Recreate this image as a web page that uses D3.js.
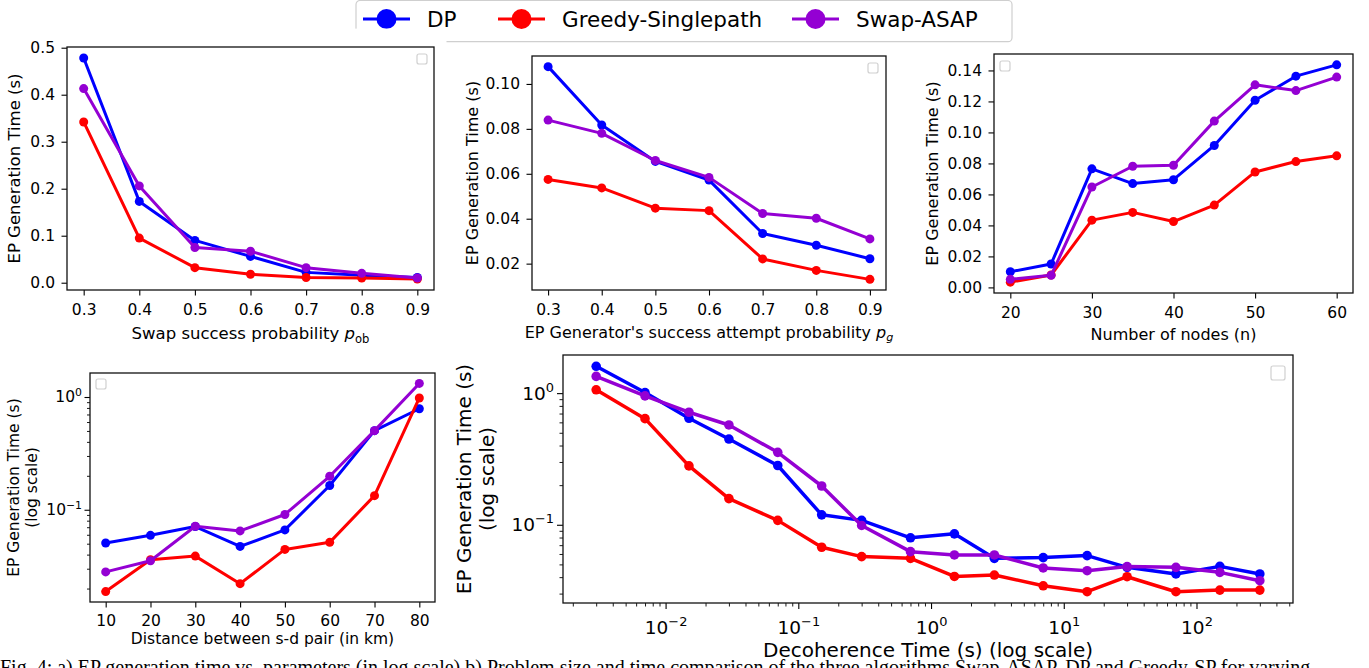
<!DOCTYPE html>
<html>
<head>
<meta charset="utf-8">
<script src="https://cdn.jsdelivr.net/npm/d3@7"></script>
<style>
  body { margin: 0; background: #fff; }
  svg text { font-family: "DejaVu Sans", sans-serif; fill: #000; }
  .caption { font-family: "Liberation Serif", serif; }
</style>
</head>
<body>
<svg id="fig" width="1369" height="668"></svg>
<script>
// ---- series ----
var seriesNames = ["DP", "Greedy-Singlepath", "Swap-ASAP"];
var seriesColors = ["#0000ff", "#ff0000", "#9400d3"];

// (top left) swap success probability
var pobValues = [0.3, 0.4, 0.5, 0.6, 0.7, 0.8, 0.9];
var pobDP = [0.478, 0.173, 0.090, 0.056, 0.022, 0.016, 0.011];
var pobGreedy = [0.342, 0.095, 0.032, 0.018, 0.011, 0.010, 0.008];
var pobSwapAsap = [0.413, 0.206, 0.075, 0.067, 0.032, 0.020, 0.010];

// (top middle) EP generator success probability
var pgValues = [0.3, 0.4, 0.5, 0.6, 0.7, 0.8, 0.9];
var pgDP = [0.1077, 0.0817, 0.0655, 0.0572, 0.0334, 0.0282, 0.0222];
var pgGreedy = [0.0575, 0.0537, 0.0447, 0.0436, 0.0221, 0.0170, 0.0130];
var pgSwapAsap = [0.0839, 0.0780, 0.0659, 0.0584, 0.0423, 0.0402, 0.0310];

// (top right) number of nodes
var nodeCounts = [20, 25, 30, 35, 40, 45, 50, 55, 60];
var nodesDP = [0.0101, 0.0151, 0.0765, 0.0670, 0.0695, 0.0916, 0.1208, 0.1363, 0.1436];
var nodesGreedy = [0.0034, 0.0080, 0.0434, 0.0484, 0.0425, 0.0531, 0.0745, 0.0812, 0.0849];
var nodesSwapAsap = [0.0052, 0.0078, 0.0648, 0.0782, 0.0788, 0.1073, 0.1307, 0.1270, 0.1357];

// (bottom left) s-d distance, log y
var distances = [10, 20, 30, 40, 50, 60, 70, 80];
var distDP = [0.0507, 0.0593, 0.0710, 0.0473, 0.0663, 0.164, 0.503, 0.787];
var distGreedy = [0.0188, 0.0360, 0.0388, 0.0221, 0.0445, 0.0514, 0.1334, 0.98];
var distSwapAsap = [0.0281, 0.0353, 0.0714, 0.0649, 0.0908, 0.198, 0.503, 1.32];

// (bottom right) decoherence time, log-log
var decohTimes = [0.003, 0.007, 0.015, 0.03, 0.07, 0.15, 0.3, 0.7, 1.5, 3, 7, 15, 30, 70, 150, 300];
var decohDP = [1.6, 1.01, 0.644, 0.448, 0.282, 0.119, 0.108, 0.0796, 0.0853, 0.0556, 0.0563, 0.0583, 0.0475, 0.0423, 0.0483, 0.0423];
var decohGreedy = [1.06, 0.64, 0.28, 0.158, 0.108, 0.0675, 0.0573, 0.0556, 0.0405, 0.0415, 0.0344, 0.031, 0.0403, 0.031, 0.0319, 0.0319];
var decohSwapAsap = [1.34, 0.953, 0.716, 0.573, 0.355, 0.197, 0.0988, 0.0625, 0.059, 0.059, 0.047, 0.0448, 0.0481, 0.0475, 0.0435, 0.0376];

// ---- ticks ----
var probTicks = [0.3, 0.4, 0.5, 0.6, 0.7, 0.8, 0.9];
var pobTicksY = [0, 0.1, 0.2, 0.3, 0.4, 0.5];
var pgTicksY = [0.02, 0.04, 0.06, 0.08, 0.10];
var nodeTicksX = [20, 30, 40, 50, 60];
var nodeTicksY = [0, 0.02, 0.04, 0.06, 0.08, 0.10, 0.12, 0.14];
var distTicksX = [10, 20, 30, 40, 50, 60, 70, 80];
var distTicksY = [0.1, 1];
var decohTicksX = [0.01, 0.1, 1, 10, 100];
var decohTicksY = [0.1, 1];

var svg = d3.select("#fig");

// matplotlib style 5% margins
function padDomain(vals, log) {
  var f = log ? Math.log10 : function(v) { return v; };
  var e = d3.extent(vals, f), m = (e[1] - e[0]) * 0.05;
  var lo = e[0] - m, hi = e[1] + m;
  return log ? [Math.pow(10, lo), Math.pow(10, hi)] : [lo, hi];
}

function minorTicks(domain) {
  var out = [];
  for (var k = Math.floor(Math.log10(domain[0])); k <= Math.ceil(Math.log10(domain[1])); k++) {
    for (var m = 2; m <= 9; m++) {
      var v = m * Math.pow(10, k);
      if (v >= domain[0] && v <= domain[1]) out.push(v);
    }
  }
  return out;
}

function powLabel(sel, fs) {
  sel.each(function(d) {
    var t = d3.select(this), e = Math.round(Math.log10(d));
    t.text(null);
    t.append("tspan").text("10");
    t.append("tspan")
      .attr("dy", -0.42 * fs)
      .style("font-size", (fs * 0.7) + "px")
      .text(e < 0 ? "\u2212" + (-e) : String(e));
  });
}

function writeParts(text, parts, fs) {
  parts.forEach(function(p) {
    var s = text.append("tspan").text(p.t);
    if (p.italic) s.style("font-style", "italic");
    if (p.sub) s.attr("dy", 0.22 * fs).style("font-size", (fs * 0.7) + "px");
  });
}

function drawPanel(p) {
  var g = svg.append("g");
  var b = p.box;
  var x = (p.xLog ? d3.scaleLog() : d3.scaleLinear())
    .domain(padDomain(p.xs, p.xLog))
    .range([b.x0, b.x1]);
  var y = (p.yLog ? d3.scaleLog() : d3.scaleLinear())
    .domain(padDomain(d3.merge(p.ys), p.yLog))
    .range([b.y1, b.y0]);

  // series
  var line = d3.line().x(function(d) { return x(d[0]); }).y(function(d) { return y(d[1]); });
  p.ys.forEach(function(vals, i) {
    var pts = p.xs.map(function(xv, j) { return [xv, vals[j]]; });
    var sg = g.append("g");
    sg.append("path")
      .attr("d", line(pts))
      .attr("fill", "none")
      .attr("stroke", seriesColors[i])
      .attr("stroke-width", p.lw)
      .attr("stroke-linejoin", "round");
    sg.selectAll("circle")
      .data(pts)
      .enter()
      .append("circle")
        .attr("cx", function(d) { return x(d[0]); })
        .attr("cy", function(d) { return y(d[1]); })
        .attr("r", p.mr)
        .attr("fill", seriesColors[i]);
  });

  // axes
  var xa = g.append("g")
    .attr("transform", "translate(0," + b.y1 + ")")
    .call(d3.axisBottom(x).tickValues(p.xTicks).tickFormat(p.xLog ? function() { return ""; } : p.xFmt)
      .tickSizeInner(p.tick).tickSizeOuter(0));
  var ya = g.append("g")
    .attr("transform", "translate(" + b.x0 + ",0)")
    .call(d3.axisLeft(y).tickValues(p.yTicks).tickFormat(p.yLog ? function() { return ""; } : p.yFmt)
      .tickSizeInner(p.tick).tickSizeOuter(0));
  [xa, ya].forEach(function(a) {
    a.attr("font-family", null).attr("font-size", null);
    a.select(".domain").remove();
    a.selectAll(".tick line").attr("stroke", "#000").attr("stroke-width", 1.1);
    a.selectAll("text").style("font-size", p.tickFs + "px");
  });
  xa.selectAll("text").attr("y", p.xTickBase).attr("dy", null);
  ya.selectAll("text").attr("x", -p.yTickGap);
  if (p.xLog) xa.selectAll("text").call(powLabel, p.tickFs);
  if (p.yLog) ya.selectAll("text").call(powLabel, p.tickFs);

  if (p.xLog) {
    var mx = g.append("g").attr("transform", "translate(0," + b.y1 + ")")
      .call(d3.axisBottom(x).tickValues(minorTicks(x.domain())).tickFormat("").tickSizeInner(p.minorTick).tickSizeOuter(0));
    mx.select(".domain").remove();
    mx.selectAll("line").attr("stroke", "#000").attr("stroke-width", 0.9);
  }
  if (p.yLog) {
    var my = g.append("g").attr("transform", "translate(" + b.x0 + ",0)")
      .call(d3.axisLeft(y).tickValues(minorTicks(y.domain())).tickFormat("").tickSizeInner(p.minorTick).tickSizeOuter(0));
    my.select(".domain").remove();
    my.selectAll("line").attr("stroke", "#000").attr("stroke-width", 0.9);
  }

  // spines
  g.append("rect")
    .attr("x", b.x0).attr("y", b.y0)
    .attr("width", b.x1 - b.x0).attr("height", b.y1 - b.y0)
    .attr("fill", "none").attr("stroke", "#111").attr("stroke-width", 1.3);

  // empty legend frame
  g.append("rect")
    .attr("x", p.emptyLegend[0]).attr("y", p.emptyLegend[1])
    .attr("width", p.emptyLegend[2]).attr("height", p.emptyLegend[2])
    .attr("rx", 2)
    .attr("fill", "#fff").attr("stroke", "#d0d0d0").attr("stroke-width", 1.2);

  // labels
  var xl = g.append("text")
    .attr("x", (b.x0 + b.x1) / 2).attr("y", p.xLabelY)
    .attr("text-anchor", "middle")
    .style("font-size", p.labelFs + "px");
  writeParts(xl, p.xLabel, p.labelFs);

  p.yLabel.forEach(function(s, i) {
    g.append("text")
      .attr("transform", "translate(" + p.yLabelX[i] + "," + ((b.y0 + b.y1) / 2) + ") rotate(-90)")
      .attr("text-anchor", "middle")
      .style("font-size", p.labelFs + "px")
      .text(s);
  });
}

drawPanel({
  box: { x0: 67, x1: 434, y0: 47, y1: 290 },
  xs: pobValues, ys: [pobDP, pobGreedy, pobSwapAsap],
  xTicks: probTicks, yTicks: pobTicksY,
  xFmt: d3.format(".1f"), yFmt: d3.format(".1f"),
  tick: 5.5, tickFs: 15.5, labelFs: 16.5, xTickBase: 25, yTickGap: 12,
  lw: 3, mr: 4.5,
  xLabel: [{ t: "Swap success probability " }, { t: "p", italic: true }, { t: "ob", sub: true }],
  xLabelY: 339,
  yLabel: ["EP Generation Time (s)"], yLabelX: [19.5],
  emptyLegend: [417, 54, 10]
});

drawPanel({
  box: { x0: 532, x1: 886, y0: 56, y1: 290 },
  xs: pgValues, ys: [pgDP, pgGreedy, pgSwapAsap],
  xTicks: probTicks, yTicks: pgTicksY,
  xFmt: d3.format(".1f"), yFmt: d3.format(".2f"),
  tick: 5.5, tickFs: 15.5, labelFs: 16, xTickBase: 25, yTickGap: 12,
  lw: 3, mr: 4.5,
  xLabel: [{ t: "EP Generator's success attempt probability " }, { t: "p", italic: true }, { t: "g", sub: true, italic: true }],
  xLabelY: 337.5,
  yLabel: ["EP Generation Time (s)"], yLabelX: [478],
  emptyLegend: [868, 63, 10]
});

drawPanel({
  box: { x0: 994, x1: 1353, y0: 54, y1: 293 },
  xs: nodeCounts, ys: [nodesDP, nodesGreedy, nodesSwapAsap],
  xTicks: nodeTicksX, yTicks: nodeTicksY,
  xFmt: d3.format("d"), yFmt: d3.format(".2f"),
  tick: 5.5, tickFs: 15.5, labelFs: 16, xTickBase: 25, yTickGap: 12,
  lw: 3, mr: 4.5,
  xLabel: [{ t: "Number of nodes (n)" }],
  xLabelY: 340,
  yLabel: ["EP Generation Time (s)"], yLabelX: [938],
  emptyLegend: [1000, 61, 10]
});

drawPanel({
  box: { x0: 90, x1: 435, y0: 373, y1: 602 },
  xs: distances, ys: [distDP, distGreedy, distSwapAsap],
  xLog: false, yLog: true,
  xTicks: distTicksX, yTicks: distTicksY,
  xFmt: d3.format("d"),
  tick: 5.5, minorTick: 3, tickFs: 15.5, labelFs: 15.5, xTickBase: 24, yTickGap: 8,
  lw: 3, mr: 4.5,
  xLabel: [{ t: "Distance between s-d pair (in km)" }],
  xLabelY: 644,
  yLabel: ["EP Generation Time (s)", "(log scale)"], yLabelX: [18.5, 37],
  emptyLegend: [96, 379, 10]
});

drawPanel({
  box: { x0: 563, x1: 1293, y0: 355, y1: 603 },
  xs: decohTimes, ys: [decohDP, decohGreedy, decohSwapAsap],
  xLog: true, yLog: true,
  xTicks: decohTicksX, yTicks: decohTicksY,
  tick: 6, minorTick: 3.5, tickFs: 18.5, labelFs: 20, xTickBase: 31, yTickGap: 9,
  lw: 3.5, mr: 4.8,
  xLabel: [{ t: "Decoherence Time (s) (log scale)" }],
  xLabelY: 657,
  yLabel: ["EP Generation Time (s)", "(log scale)"], yLabelX: [470.5, 493.5],
  emptyLegend: [1271, 366, 14]
});

// ---- shared legend ----
var legendStarts = [363, 498, 792];
var lg = svg.append("g");
lg.append("rect")
  .attr("x", 356).attr("y", 0.5).attr("width", 656).attr("height", 41.2)
  .attr("rx", 4)
  .attr("fill", "#fff").attr("stroke", "#cfcfcf").attr("stroke-width", 1.2);
seriesNames.forEach(function(name, i) {
  var s = legendStarts[i];
  lg.append("line")
    .attr("x1", s).attr("x2", s + 47).attr("y1", 19).attr("y2", 19)
    .attr("stroke", seriesColors[i]).attr("stroke-width", 3);
  lg.append("circle")
    .attr("cx", s + 23.5).attr("cy", 19).attr("r", 10)
    .attr("fill", seriesColors[i]);
  lg.append("text")
    .attr("x", s + 64).attr("y", 27)
    .style("font-size", "21.5px")
    .text(name);
});
// the panel image below overlaps the legend's lower-left corner
svg.append("rect")
  .attr("x", 350).attr("y", 28.6).attr("width", 96.5).attr("height", 16)
  .attr("fill", "#fff");

// ---- caption (cut off at the page edge) ----
svg.append("text")
  .attr("class", "caption")
  .attr("x", 0).attr("y", 674)
  .style("font-size", "20px")
  .text("Fig. 4: a) EP generation time vs. parameters (in log scale) b) Problem size and time comparison of the three algorithms Swap-ASAP, DP and Greedy-SP for varying");
</script>
</body>
</html>
